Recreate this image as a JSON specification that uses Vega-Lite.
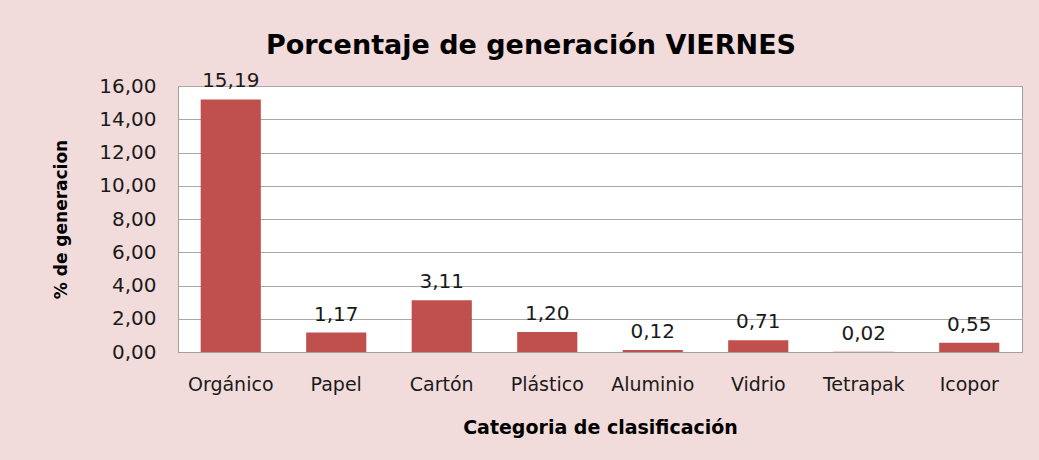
{
  "$schema": "https://vega.github.io/schema/vega-lite/v6.json",
  "autosize": "none",
  "width": 844,
  "height": 266,
  "padding": {"left": 178, "top": 86, "right": 17, "bottom": 108},
  "background": "#f2dcdb",
  "title": {
    "text": "Porcentaje de generación VIERNES",
    "anchor": "middle",
    "dx": -69,
    "offset": 11,
    "fontSize": 27,
    "font": "DejaVu Sans",
    "fontWeight": "bold",
    "color": "#000000"
  },
  "config": {
    "locale": {"number": {"decimal": ",", "thousands": ".", "grouping": [3], "currency": ["", " €"]}},
    "view": {"fill": "#ffffff", "stroke": "#a0a0a0", "strokeWidth": 1},
    "font": "DejaVu Sans"
  },
  "data": {
    "values": [
      {"categoria": "Orgánico", "valor": 15.19},
      {"categoria": "Papel", "valor": 1.17},
      {"categoria": "Cartón", "valor": 3.11},
      {"categoria": "Plástico", "valor": 1.20},
      {"categoria": "Aluminio", "valor": 0.12},
      {"categoria": "Vidrio", "valor": 0.71},
      {"categoria": "Tetrapak", "valor": 0.02},
      {"categoria": "Icopor", "valor": 0.55}
    ]
  },
  "encoding": {
    "x": {
      "field": "categoria",
      "type": "nominal",
      "sort": null,
      "scale": {"paddingInner": 0.43, "paddingOuter": 0.215},
      "axis": {
        "title": "Categoria de clasificación",
        "titleFontSize": 19,
        "titleFontWeight": "bold",
        "titleColor": "#000000",
        "titlePadding": 24,
        "labelAngle": 0,
        "labelFontSize": 19,
        "labelFontWeight": "normal",
        "labelColor": "#1a1a1a",
        "labelPadding": 23,
        "ticks": false,
        "domainColor": "#a0a0a0"
      }
    },
    "y": {
      "field": "valor",
      "type": "quantitative",
      "scale": {"domain": [0, 16]},
      "axis": {
        "title": "% de generacion",
        "titleFontSize": 17,
        "titleFontWeight": "bold",
        "titleColor": "#000000",
        "titlePadding": 28,
        "values": [0, 2, 4, 6, 8, 10, 12, 14, 16],
        "format": ".2f",
        "labelFontSize": 20,
        "labelColor": "#1a1a1a",
        "labelPadding": 22,
        "ticks": false,
        "gridColor": "#a8a8a8",
        "domainColor": "#a0a0a0"
      }
    }
  },
  "layer": [
    {"mark": {"type": "bar", "color": "#c0504d"}},
    {
      "mark": {"type": "text", "baseline": "bottom", "dy": -8, "fontSize": 20, "color": "#1a1a1a"},
      "encoding": {"text": {"field": "valor", "type": "quantitative", "format": ".2f"}}
    }
  ]
}
